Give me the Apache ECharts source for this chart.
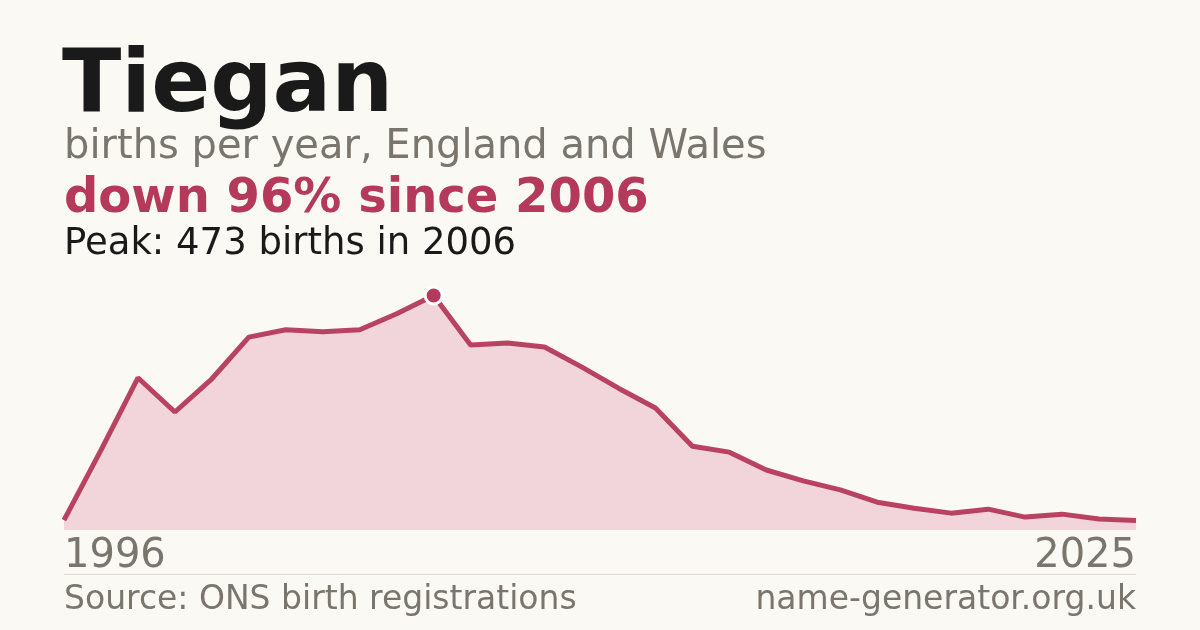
<!DOCTYPE html>
<html>
<head>
<meta charset="utf-8">
<script src="https://cdn.jsdelivr.net/npm/echarts@6/dist/echarts.min.js"></script>
<style>
  html, body { margin: 0; padding: 0; background: #faf9f4; }
  #chart { width: 1200px; height: 630px; }
</style>
</head>
<body>
<div id="chart"></div>
<script>
// data
var years = ['1996','1997','1998','1999','2000','2001','2002','2003','2004','2005',
             '2006','2007','2008','2009','2010','2011','2012','2013','2014','2015',
             '2016','2017','2018','2019','2020','2021','2022','2023','2024','2025'];
var births = [20, 161, 307, 238, 305, 389, 404, 400, 404, 436,
              473, 373, 377, 369, 329, 286, 246, 169, 157, 121,
              99, 81, 56, 44, 34, 42, 26, 32, 22, 19];

var nameText = 'Tiegan';
var subText = 'births per year, England and Wales';
var trendText = 'down 96% since 2006';
var peakText = 'Peak: 473 births in 2006';
var sourceText = 'Source: ONS birth registrations';
var siteText = 'name-generator.org.uk';

var red = '#b5395a';
var grey = '#7a756d';
var font = '"DejaVu Sans", sans-serif';

//找最高点
var peakIdx = 0;
for (var i = 1; i < births.length; i++) {
    if (births[i] > births[peakIdx]) peakIdx = i;
}

var chart = echarts.init(document.getElementById('chart'), null, { renderer: 'canvas' });

var option = {
    backgroundColor: '#faf9f4',
    animation: false,
    grid: { left: 64, right: 64, top: 292, bottom: 100 },
    xAxis: {
        type: 'category',
        data: years,
        boundaryGap: false,
        axisLine: { show: false },
        axisTick: { show: false },
        splitLine: { show: false },
        axisLabel: {
            interval: function (idx) { return idx == 0 || idx == years.length - 1; },
            color: grey,
            fontFamily: font,
            fontSize: 40,
            margin: 7,
            alignMinLabel: 'left',
            alignMaxLabel: 'right'
        }
    },
    yAxis: {
        type: 'value',
        min: 0,
        max: 480,
        show: false
    },
    series: [
        {
            type: 'line',
            data: births,
            symbol: 'none',
            lineStyle: { color: red, width: 5, opacity: 0.95 },
            areaStyle: { color: '#f2d5db', opacity: 1 },
            z: 2
        },
        {
            type: 'scatter',
            data: [[years[peakIdx], births[peakIdx]]],
            symbol: 'circle',
            symbolSize: 17,
            itemStyle: { color: red, opacity: 1, borderColor: '#ffffff', borderWidth: 3 },
            z: 3
        }
    ],
    graphic: [
        { type: 'text', left: 62, top: 45,
          style: { text: nameText, font: 'bold 87px ' + font, fill: '#1a1a1a' } },
        { type: 'text', left: 64, top: 128,
          style: { text: subText, font: '40px ' + font, fill: grey } },
        { type: 'text', left: 64, top: 176,
          style: { text: trendText, font: 'bold 48px ' + font, fill: red } },
        { type: 'text', left: 64, top: 226,
          style: { text: peakText, font: '37px ' + font, fill: '#1a1a1a' } },
        { type: 'line', shape: { x1: 64, y1: 574.5, x2: 1136, y2: 574.5 },
          style: { stroke: '#dddad3', lineWidth: 1 } },
        { type: 'text', left: 64, top: 584,
          style: { text: sourceText, font: '33px ' + font, fill: grey } },
        { type: 'text', right: 64, top: 584,
          style: { text: siteText, font: '33px ' + font, fill: grey } }
    ]
};

chart.setOption(option);
</script>
</body>
</html>
